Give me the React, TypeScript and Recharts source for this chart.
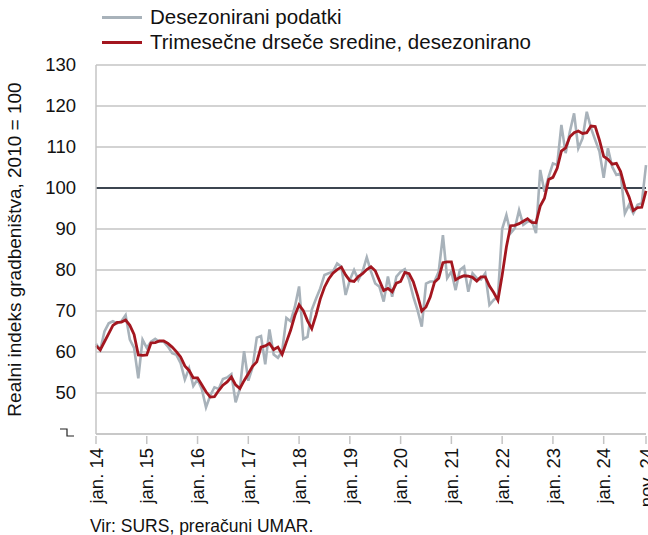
import { LineChart, Line, XAxis, YAxis, CartesianGrid, ReferenceLine } from "recharts";

const MONTHS = ["jan.", "feb.", "mar.", "apr.", "maj", "jun.", "jul.", "avg.", "sep.", "okt.", "nov.", "dec."];
const YEARS = ["14", "15", "16", "17", "18", "19", "20", "21", "22", "23", "24"];

// desezonirani podatki, jan. 2014 - nov. 2024
const DESEZ = [
  62, 60.5, 65, 67, 67.5, 67, 67.5, 69, 63, 61, 53.6, 63,
  61, 62.5, 63.2, 62.5, 62.5, 61.3, 59.7, 59.3, 57.3, 53.3, 56, 51.7,
  53.3, 51, 46.5, 49.4, 51.4, 51, 53.4, 53.8, 54.6, 47.7, 51, 60.2,
  53, 56.2, 63.5, 63.9, 57, 65.5, 59.4, 58.6, 60.2, 68.3, 67.5, 71,
  76, 63.2, 63.7, 70.3, 73, 75.5, 78.8, 79.2, 79.6, 81.6, 80.8, 73.9,
  77.6, 80, 77.6, 79.6, 83.1, 79.6, 76.7, 75.9, 72.3, 78.4, 73.5, 78.4,
  79.6, 80.2, 77.6, 73.5, 70.2, 66.2, 76.7, 77.2, 77.2, 79.6, 88.5, 78,
  79.6, 75.1, 80, 80.8, 74.7, 79.2, 78, 77.7, 79.2, 71.5, 72.7, 73.5,
  90, 93.4, 89, 90.2, 94.6, 91, 91.8, 92, 89, 104.4, 99.1, 102.8,
  106, 105.6, 115.4, 108.5, 113.7, 118.2, 109.7, 112.1, 118.6, 114.6, 111.7, 108.9,
  102.5, 109.7, 105.2, 103.2, 103.6, 93.8, 95.9, 93.8, 95.9, 96.3, 105.6,
];

// trimesečne drseče sredine
const TRIMES = [
  61.5, 60.5, 62.5, 64.5, 66.5, 67.2, 67.3, 67.8, 66.5, 64.3, 59.3, 59.2,
  59.3, 62.2, 62.3, 62.7, 62.7, 62.1, 61.2, 60.1, 58.8, 56.6, 55.5, 53.7,
  53.7, 52, 50.3, 49, 49.1, 50.6, 51.9, 52.7, 53.9, 52, 51.1, 53,
  54.7, 56.5, 57.6, 61.2, 61.5, 62.1, 60.6, 61.2, 59.4, 62.4, 65.3, 68.9,
  71.5, 70.1, 67.6, 65.7, 69, 72.9, 75.8, 77.8, 79.2, 80.1, 80.7, 78.8,
  77.4, 77.2, 78.4, 79.1, 80.1, 80.8, 79.8, 77.4, 75, 75.5, 74.7, 76.8,
  77.2, 79.4, 79.1, 77.1, 73.8, 70, 71, 73.4, 77, 78, 81.8, 82,
  82, 77.6, 78.2, 78.6, 78.5, 78.2, 77.3, 78.3, 78.3, 76.1, 74.5, 72.6,
  78.7, 85.6, 90.8, 90.9, 91.3, 91.9, 92.5, 91.6, 91.5, 95.6, 97.5, 102.1,
  102.6, 104.8, 109, 109.8, 112.5, 113.5, 113.9, 113.3, 113.5, 115.1, 115, 111.7,
  107.7, 107, 105.8, 106, 104, 100.2, 97.8, 94.5, 95.2, 95.3, 99.3,
];

const X_TICKS = [
  "jan. 14", "jan. 15", "jan. 16", "jan. 17", "jan. 18", "jan. 19",
  "jan. 20", "jan. 21", "jan. 22", "jan. 23", "jan. 24", "nov. 24",
];
const Y_TICKS = [40, 50, 60, 70, 80, 90, 100, 110, 120, 130];

const periods = YEARS.flatMap((y) => MONTHS.map((m) => `${m} ${y}`)).slice(0, DESEZ.length);
const data = periods.map((p, i) => ({ period: p, desez: DESEZ[i], trimes: TRIMES[i] }));

const FONT = "'Liberation Sans', Arial, sans-serif";
const GREY = "#a8b2ba";
const RED = "#a3161f";
const GRID = "#c4c4c4";

function XTick({ x, y, payload }: any) {
  return (
    <g transform={`translate(${x},${y})`}>
      <line x1={0} y1={0} x2={0} y2={8} stroke={GRID} strokeWidth={1.5} />
      <text
        transform="rotate(-90)"
        x={-12}
        y={0}
        dy="0.36em"
        textAnchor="end"
        fontSize={18.5}
        fontFamily={FONT}
        fill="#111"
      >
        {payload.value}
      </text>
    </g>
  );
}

function YTick({ x, y, payload }: any) {
  if (payload.value === 40) {
    // oznaka prekinjene osi
    return (
      <path
        d={`M${x - 34},${y - 5} H${x - 27} V${y + 2} H${x - 20}`}
        fill="none"
        stroke="#222"
        strokeWidth={1.2}
      />
    );
  }
  return (
    <text x={x - 18} y={y} dy="0.35em" textAnchor="end" fontSize={18.5} fontFamily={FONT} fill="#111">
      {payload.value}
    </text>
  );
}

export default function App() {
  return (
    <div style={{ position: "absolute", left: 0, top: 0, width: 648, height: 535, background: "#fff", fontFamily: FONT }}>
      <div style={{ position: "absolute", left: 102, top: 6, display: "flex", flexDirection: "column", gap: 3 }}>
        <div style={{ display: "flex", alignItems: "center", height: 22 }}>
          <div style={{ width: 40, height: 3, background: GREY, marginRight: 8 }} />
          <span style={{ fontSize: 20.5, color: "#111" }}>Desezonirani podatki</span>
        </div>
        <div style={{ display: "flex", alignItems: "center", height: 22 }}>
          <div style={{ width: 40, height: 3, background: RED, marginRight: 8 }} />
          <span style={{ fontSize: 20.5, color: "#111" }}>Trimesečne drseče sredine, desezonirano</span>
        </div>
      </div>

      <LineChart width={648} height={535} data={data} margin={{ top: 65, right: 2, left: 0, bottom: 0 }}>
        <CartesianGrid vertical={false} stroke={GRID} strokeWidth={1.5} />
        <XAxis
          dataKey="period"
          ticks={X_TICKS}
          interval={0}
          height={101}
          tickSize={0}
          tickLine={false}
          axisLine={{ stroke: GRID, strokeWidth: 1.5 }}
          tick={<XTick />}
        />
        <YAxis
          domain={[40, 130]}
          ticks={Y_TICKS}
          width={96}
          tickSize={0}
          tickLine={false}
          axisLine={{ stroke: GRID, strokeWidth: 1.5 }}
          tick={<YTick />}
          label={{
            value: "Realni indeks gradbeništva, 2010 = 100",
            angle: -90,
            position: "insideLeft",
            offset: 0,
            style: { fontSize: 19, fontFamily: FONT, fill: "#111", textAnchor: "middle" },
            dx: 14,
          }}
        />
        <ReferenceLine y={100} stroke="#3c4550" strokeWidth={1.8} />
        <Line
          type="linear"
          dataKey="desez"
          stroke={GREY}
          strokeWidth={2.6}
          dot={false}
          isAnimationActive={false}
        />
        <Line
          type="linear"
          dataKey="trimes"
          stroke={RED}
          strokeWidth={2.8}
          dot={false}
          isAnimationActive={false}
        />
      </LineChart>

      <div style={{ position: "absolute", left: 90, top: 516, fontSize: 17.5, color: "#111" }}>
        Vir: SURS, preračuni UMAR.
      </div>
    </div>
  );
}
